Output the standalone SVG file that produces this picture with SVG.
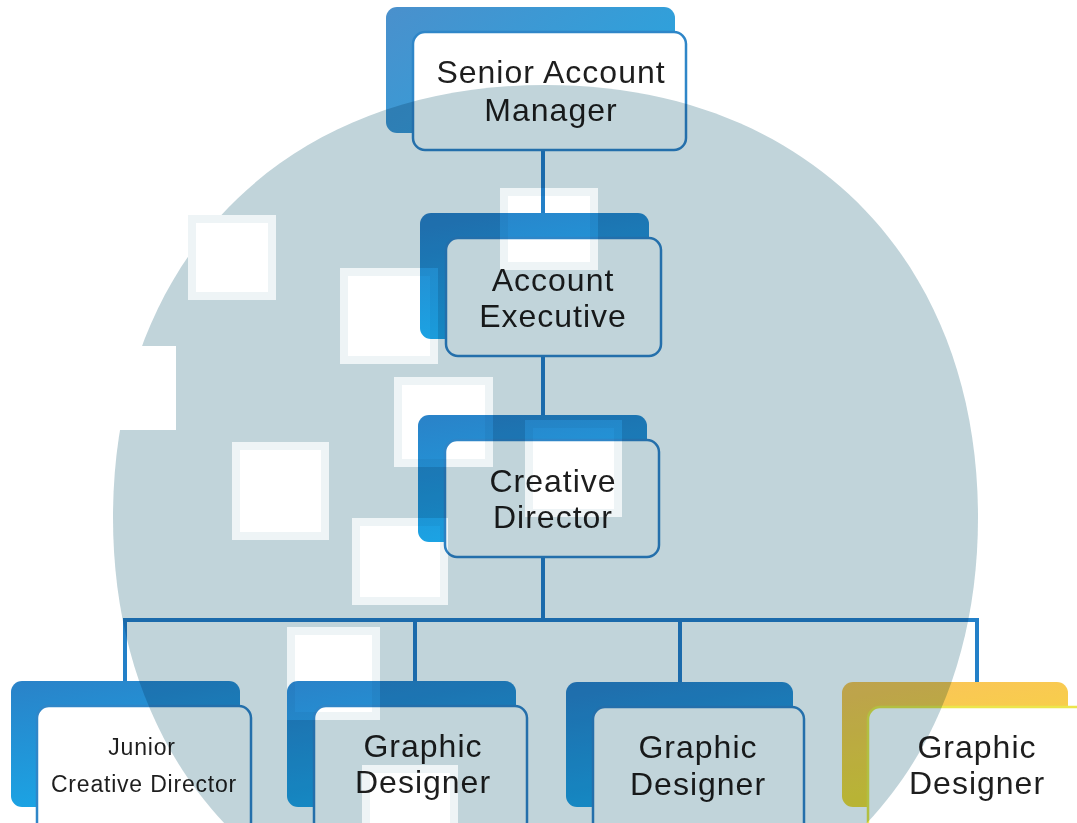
<svg xmlns="http://www.w3.org/2000/svg" width="1077" height="823" viewBox="0 0 1077 823">
  <defs>
    <linearGradient id="blueTab" x1="0" y1="0" x2="0.35" y2="1">
      <stop offset="0" stop-color="#2a82c8"/>
      <stop offset="1" stop-color="#1aa6e6"/>
    </linearGradient>
    <linearGradient id="samTab" x1="0" y1="0" x2="1" y2="0.6">
      <stop offset="0" stop-color="#4a90cc"/>
      <stop offset="1" stop-color="#2aa4de"/>
    </linearGradient>
    <linearGradient id="yellowTab" x1="0" y1="0" x2="0.3" y2="1">
      <stop offset="0" stop-color="#fbc35a"/>
      <stop offset="1" stop-color="#f3db3a"/>
    </linearGradient>
    <style>
      .tab { stroke: none; }
      .front { fill: #ffffff; stroke: #2f86c8; stroke-width: 2.5; }
      .front-y { fill: #ffffff; stroke: #ece64c; stroke-width: 2.5; }
      .lbl { font-family: "Liberation Sans", Arial, sans-serif; fill: #1e1e1e; text-anchor: middle; font-size: 32px; letter-spacing: 1px; }
      .lbl-s { font-size: 23px; letter-spacing: 0.8px; }
      .conn { fill: none; stroke: #2380c8; stroke-width: 4; }
      .hole { fill: #ffffff; stroke: #eef4f6; stroke-width: 8; }
    </style>
  </defs>

  <rect x="0" y="0" width="1077" height="823" fill="#ffffff"/>

  <g id="connectors">
    <path class="conn" d="M543,150 V215"/>
    <path class="conn" d="M543,356 V417"/>
    <path class="conn" d="M543,557 V620"/>
    <path class="conn" d="M125,683 V620 H977 V684"/>
    <path class="conn" d="M415,620 V683"/>
    <path class="conn" d="M680,620 V684"/>
  </g>

  <g id="node-senior-account-manager">
    <rect class="tab" x="386" y="7" width="289" height="126" rx="11" fill="url(#samTab)"/>
    <rect class="front" x="413" y="32" width="273" height="118" rx="12"/>
    <text class="lbl"><tspan x="551" y="83">Senior Account</tspan><tspan x="551" y="121">Manager</tspan></text>
  </g>

  <g id="node-account-executive">
    <rect class="tab" x="420" y="213" width="229" height="126" rx="11" fill="url(#blueTab)"/>
    <rect class="front" x="446" y="238" width="215" height="118" rx="12"/>
    <text class="lbl"><tspan x="553" y="291">Account</tspan><tspan x="553" y="327">Executive</tspan></text>
  </g>

  <g id="node-creative-director">
    <rect class="tab" x="418" y="415" width="229" height="127" rx="11" fill="url(#blueTab)"/>
    <rect class="front" x="445" y="440" width="214" height="117" rx="12"/>
    <text class="lbl"><tspan x="553" y="492">Creative</tspan><tspan x="553" y="528">Director</tspan></text>
  </g>

  <g id="node-junior-creative-director">
    <rect class="tab" x="11" y="681" width="229" height="126" rx="11" fill="url(#blueTab)"/>
    <rect class="front" x="37" y="706" width="214" height="128" rx="12"/>
    <text class="lbl lbl-s"><tspan x="142" y="755">Junior</tspan><tspan x="144" y="792">Creative Director</tspan></text>
  </g>

  <g id="node-graphic-designer-1">
    <rect class="tab" x="287" y="681" width="229" height="126" rx="11" fill="url(#blueTab)"/>
    <rect class="front" x="314" y="706" width="213" height="128" rx="12"/>
    <text class="lbl"><tspan x="423" y="757">Graphic</tspan><tspan x="423" y="793">Designer</tspan></text>
  </g>

  <g id="node-graphic-designer-2">
    <rect class="tab" x="566" y="682" width="227" height="125" rx="11" fill="url(#blueTab)"/>
    <rect class="front" x="593" y="707" width="211" height="128" rx="12"/>
    <text class="lbl"><tspan x="698" y="758">Graphic</tspan><tspan x="698" y="795">Designer</tspan></text>
  </g>

  <g id="node-graphic-designer-3">
    <rect class="tab" x="842" y="682" width="226" height="125" rx="11" fill="url(#yellowTab)"/>
    <rect class="front-y" x="868" y="707" width="230" height="128" rx="12"/>
    <text class="lbl"><tspan x="977" y="758">Graphic</tspan><tspan x="977" y="794">Designer</tspan></text>
  </g>

  <g id="background-overlay" style="mix-blend-mode:multiply">
    <path d="M978,517.5 C978,777 805,950 545.5,950 C286,950 113,777 113,517.5 C113,258 286,85 545.5,85 C805,85 978,258 978,517.5 Z" fill="#c1d4da"/>
    <rect class="hole" x="192" y="219" width="80" height="77"/>
    <rect class="hole" x="344" y="272" width="90" height="88"/>
    <rect x="90" y="346" width="86" height="84" fill="#ffffff"/>
    <rect class="hole" x="398" y="381" width="91" height="82"/>
    <rect class="hole" x="529" y="424" width="89" height="89"/>
    <rect class="hole" x="236" y="446" width="89" height="90"/>
    <rect class="hole" x="356" y="522" width="88" height="79"/>
    <rect class="hole" x="291" y="631" width="85" height="85"/>
    <rect class="hole" x="504" y="192" width="90" height="74"/>
    <rect class="hole" x="366" y="769" width="88" height="62"/>
  </g>
</svg>
